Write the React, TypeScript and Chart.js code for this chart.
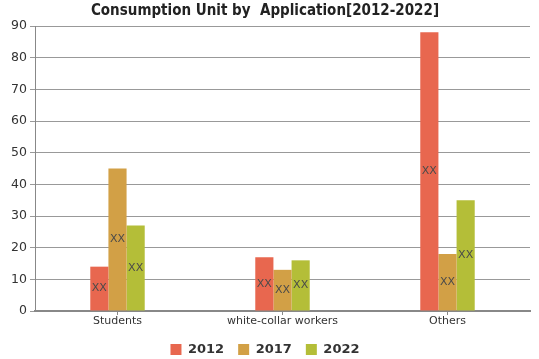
import React, { useEffect, useRef } from "react";
import { Chart, registerables } from "chart.js";

Chart.register(...registerables);

const categories = ["Students", "white-collar workers", "Others"];
const seriesLabels = ["2012", "2017", "2022"];
const values2012 = [14, 17, 88];
const values2017 = [45, 13, 18];
const values2022 = [27, 16, 35];
const colors = ["#E8674F", "#D2A046", "#B4BE38"];
const yTicks = [0, 10, 20, 30, 40, 50, 60, 70, 80, 90];

const xxPlugin = {
  id: "xxLabels",
  afterDatasetsDraw(chart: any) {
    const ctx = chart.ctx;
    ctx.save();
    ctx.font = "11px 'DejaVu Sans', sans-serif";
    ctx.fillStyle = "#4a4a4a";
    ctx.textAlign = "center";
    ctx.textBaseline = "middle";
    chart.data.datasets.forEach((ds: any, i: number) => {
      const meta = chart.getDatasetMeta(i);
      meta.data.forEach((bar: any) => {
        const y = (bar.y + bar.base) / 2;
        ctx.fillText("XX", bar.x, y);
      });
    });
    ctx.restore();
  },
};

export default function App() {
  const ref = useRef<HTMLCanvasElement>(null);
  useEffect(() => {
    document.body.style.margin = "0";
    const chart = new Chart(ref.current!, {
      type: "bar",
      data: {
        labels: categories,
        datasets: [values2012, values2017, values2022].map((d, i) => ({
          label: seriesLabels[i],
          data: d,
          backgroundColor: colors[i],
          borderWidth: 0,
          categoryPercentage: 0.33,
          barPercentage: 1,
        })),
      },
      options: {
        animation: false,
        responsive: false,
        layout: { padding: { left: 0, right: 9, top: 0, bottom: -7 } },
        plugins: {
          title: {
            display: true,
            text: "Consumption Unit by  Application[2012-2022]",
            font: { family: "'Liberation Sans Narrow', 'DejaVu Sans Condensed', sans-serif", size: 15, weight: "bold" },
            color: "#222",
            padding: { top: 2, bottom: 6 },
          },
          legend: {
            position: "bottom",
            labels: {
              boxWidth: 11,
              boxHeight: 11,
              font: { family: "'DejaVu Sans', sans-serif", size: 13, weight: "bold" },
              color: "#333",
              padding: 14,
            },
          },
          tooltip: { enabled: false },
        },
        scales: {
          x: {
            grid: { offset: false, drawOnChartArea: false, tickLength: 4, color: "#888" },
            border: { color: "#888", width: 2 },
            ticks: { font: { family: "'DejaVu Sans', sans-serif", size: 11 }, color: "#333", padding: 0 },
            afterFit: (s: any) => { s.height = 18; },
          },
          y: {
            min: 0,
            max: 90,
            afterBuildTicks: (s: any) => { s.ticks = yTicks.map((v) => ({ value: v })); },
            grid: { color: "#999", tickLength: 5 },
            border: { color: "#888", width: 1 },
            ticks: { font: { family: "'DejaVu Sans', sans-serif", size: 12.5 }, color: "#333", padding: 3 },
            afterFit: (s: any) => { s.width = 35; },
          },
        },
      },
      plugins: [xxPlugin],
    });
    return () => chart.destroy();
  }, []);
  return (
    <div style={{ position: "fixed", left: 0, top: 0, width: 539, height: 359 }}>
      <canvas ref={ref} width={539} height={359} />
    </div>
  );
}
